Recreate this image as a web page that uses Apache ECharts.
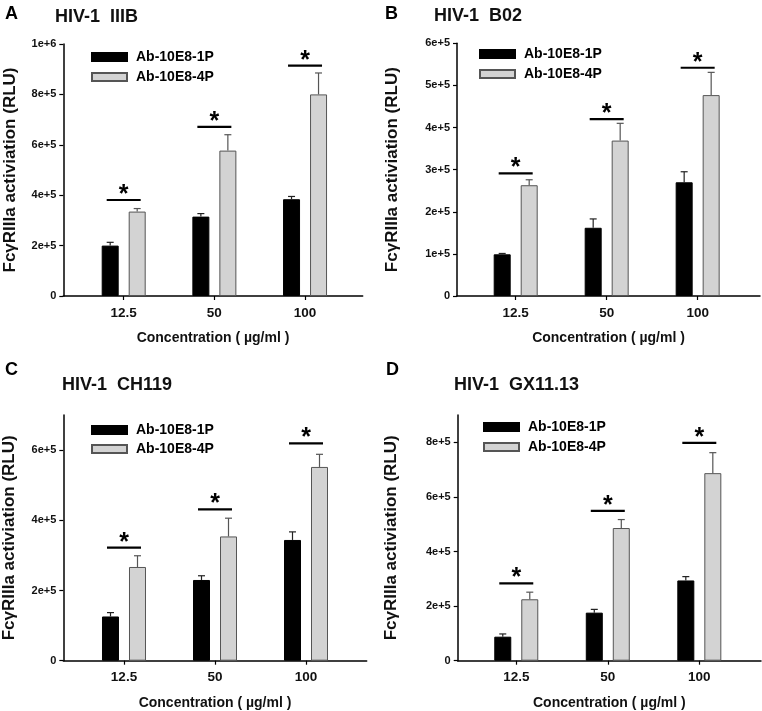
<!DOCTYPE html>
<html>
<head>
<meta charset="utf-8">
<script src="https://cdn.jsdelivr.net/npm/echarts@6/dist/echarts.min.js"></script>
<style>
html,body{margin:0;padding:0;background:#fff;}
#chart{width:762px;height:711px;}
</style>
</head>
<body>
<div id="chart"></div>
<script>
// ---- data ----
const categories = ['12.5', '50', '100'];
const seriesNames = ['Ab-10E8-1P', 'Ab-10E8-4P'];

const panelLetters = ['A', 'B', 'C', 'D'];
const panelTitles = ['HIV-1  IIIB', 'HIV-1  B02', 'HIV-1  CH119', 'HIV-1  GX11.13'];

// Panel A: HIV-1 IIIB
const a1P = [2.00e5, 3.15e5, 3.84e5];
const a1PErr = [0.13e5, 0.12e5, 0.11e5];
const a4P = [3.35e5, 5.77e5, 8.00e5];
const a4PErr = [0.12e5, 0.63e5, 0.85e5];
const aSig = [3.81e5, 6.71e5, 9.14e5];
const aTicks = [0, 2e5, 4e5, 6e5, 8e5, 1e6];
const aMax = 1e6;

// Panel B: HIV-1 B02
const b1P = [0.99e5, 1.62e5, 2.70e5];
const b1PErr = [0.02e5, 0.21e5, 0.25e5];
const b4P = [2.63e5, 3.69e5, 4.77e5];
const b4PErr = [0.13e5, 0.41e5, 0.54e5];
const bSig = [2.91e5, 4.20e5, 5.42e5];
const bTicks = [0, 1e5, 2e5, 3e5, 4e5, 5e5, 6e5];
const bMax = 6e5;

// Panel C: HIV-1 CH119
const c1P = [1.26e5, 2.30e5, 3.44e5];
const c1PErr = [0.11e5, 0.12e5, 0.23e5];
const c4P = [2.67e5, 3.54e5, 5.52e5];
const c4PErr = [0.32e5, 0.52e5, 0.36e5];
const cSig = [3.22e5, 4.31e5, 6.19e5];
const cTicks = [0, 2e5, 4e5, 6e5];
const cMax = 7e5;

// Panel D: HIV-1 GX11.13
const d1P = [0.88e5, 1.76e5, 2.94e5];
const d1PErr = [0.10e5, 0.12e5, 0.14e5];
const d4P = [2.25e5, 4.86e5, 6.87e5];
const d4PErr = [0.26e5, 0.31e5, 0.75e5];
const dSig = [2.83e5, 5.49e5, 7.98e5];
const dTicks = [0, 2e5, 4e5, 6e5, 8e5];
const dMax = 9e5;

const xAxisName = 'Concentration ( \u00b5g/ml )';
const yAxisName = 'Fc\u03b3RIIIa activiation (RLU)';

// ---- layout / style ----
const FONT = '"Liberation Sans", Arial, Helvetica, sans-serif';
const panels = [
  {p1: a1P, e1: a1PErr, p4: a4P, e4: a4PErr, sig: aSig, ticks: aTicks, max: aMax,
   grid: {left: 63.3, top: 44, width: 299.4, height: 252}, xmin: 0.334, xmax: 3.636, nameGap: 44,
   legend: {left: 86, top: 44, gap: 4}, letter: {left: 5, top: 5}, title: {left: 55, top: 8}},
  {p1: b1P, e1: b1PErr, p4: b4P, e4: b4PErr, sig: bSig, ticks: bTicks, max: bMax,
   grid: {left: 457, top: 43.3, width: 303, height: 252.7}, xmin: 0.355, xmax: 3.685, nameGap: 56,
   legend: {left: 474, top: 41, gap: 4}, letter: {left: 385, top: 5}, title: {left: 434, top: 7}},
  {p1: c1P, e1: c1PErr, p4: c4P, e4: c4PErr, sig: cSig, ticks: cTicks, max: cMax,
   grid: {left: 63.3, top: 415, width: 303.4, height: 245.7}, xmin: 0.333, xmax: 3.667, nameGap: 45,
   legend: {left: 86, top: 417, gap: 3}, letter: {left: 5, top: 361}, title: {left: 62, top: 376}},
  {p1: d1P, e1: d1PErr, p4: d4P, e4: d4PErr, sig: dSig, ticks: dTicks, max: dMax,
   grid: {left: 457.7, top: 415, width: 303.3, height: 245.7}, xmin: 0.36, xmax: 3.674, nameGap: 58,
   legend: {left: 478, top: 414, gap: 4}, letter: {left: 386, top: 361}, title: {left: 454, top: 376}}
];

const BAR_W = 17;
const BAR_GAP_PX = 10;
const HALF_OFF = (BAR_W + BAR_GAP_PX) / 2;

function expLabel(v) {
  if (v === 0) return '0';
  const e = Math.floor(Math.log10(v) + 1e-9);
  const m = Math.round(v / Math.pow(10, e));
  return m + 'e+' + e;
}

const grids = [], xAxes = [], yAxes = [], series = [], legends = [], titles = [];

panels.forEach(function (p, i) {
  grids.push(Object.assign({outerBoundsMode: 'none', containLabel: false}, p.grid));
  xAxes.push({
    type: 'value', gridIndex: i, min: p.xmin, max: p.xmax,
    name: xAxisName, nameLocation: 'middle', nameGap: 35,
    nameTextStyle: {fontFamily: FONT, fontWeight: 'bold', fontSize: 14, color: '#111'},
    splitLine: {show: false},
    axisLine: {show: true, onZero: false, lineStyle: {color: '#000', width: 1.5}},
    axisTick: {show: true, customValues: [1, 2, 3], length: 4, inside: false, lineStyle: {color: '#000', width: 1.2}},
    axisLabel: {customValues: [1, 2, 3], margin: 10, fontFamily: FONT, fontWeight: 'bold', fontSize: 13.5, color: '#111',
      formatter: function (v) { return categories[Math.round(v) - 1] || ''; }}
  });
  yAxes.push({
    type: 'value', gridIndex: i, min: 0, max: p.max,
    name: yAxisName, nameLocation: 'middle', nameGap: p.nameGap, nameRotate: 90,
    nameTextStyle: {fontFamily: FONT, fontWeight: 'bold', fontSize: 17, color: '#111'},
    splitLine: {show: false},
    axisLine: {show: true, lineStyle: {color: '#000', width: 1.5}},
    axisTick: {show: true, customValues: p.ticks, length: 4, lineStyle: {color: '#000', width: 1.2}},
    axisLabel: {customValues: p.ticks, margin: 7, fontFamily: FONT, fontWeight: 'bold', fontSize: 11, color: '#111',
      formatter: function (v) { return expLabel(v); }}
  });

  series.push({
    name: seriesNames[0], type: 'bar', xAxisIndex: i, yAxisIndex: i,
    barWidth: BAR_W, barGap: (BAR_GAP_PX / BAR_W * 100) + '%',
    itemStyle: {color: '#000', borderColor: '#000', borderWidth: 1},
    data: p.p1.map(function (v, k) { return [k + 1, v]; }), z: 2
  });
  series.push({
    name: seriesNames[1], type: 'bar', xAxisIndex: i, yAxisIndex: i,
    barWidth: BAR_W, barGap: (BAR_GAP_PX / BAR_W * 100) + '%',
    itemStyle: {color: '#d3d3d3', borderColor: '#555', borderWidth: 1},
    data: p.p4.map(function (v, k) { return [k + 1, v]; }), z: 2
  });

  const errData = [];
  p.p1.forEach(function (v, k) { errData.push([k + 1, v, p.e1[k], 0]); });
  p.p4.forEach(function (v, k) { errData.push([k + 1, v, p.e4[k], 1]); });
  series.push({
    type: 'custom', xAxisIndex: i, yAxisIndex: i, z: 3, silent: true,
    encode: {x: 0, y: 1},
    data: errData,
    renderItem: function (params, api) {
      const x = api.value(0), v = api.value(1), e = api.value(2), side = api.value(3);
      const dx = side === 0 ? -HALF_OFF : HALF_OFF;
      const b = api.coord([x, v]);
      const t = api.coord([x, v + e]);
      const cx = b[0] + dx;
      const col = side === 0 ? '#222' : '#555';
      return {type: 'group', children: [
        {type: 'line', shape: {x1: cx, y1: b[1], x2: cx, y2: t[1]}, style: {stroke: col, lineWidth: 1.2}},
        {type: 'line', shape: {x1: cx - 3.5, y1: t[1], x2: cx + 3.5, y2: t[1]}, style: {stroke: col, lineWidth: 1.2}}
      ]};
    }
  });

  series.push({
    type: 'custom', xAxisIndex: i, yAxisIndex: i, z: 4, silent: true,
    encode: {x: 0, y: 1},
    data: p.sig.map(function (v, k) { return [k + 1, v]; }),
    renderItem: function (params, api) {
      const c = api.coord([api.value(0), api.value(1)]);
      return {type: 'group', children: [
        {type: 'line', shape: {x1: c[0] - 17, y1: c[1], x2: c[0] + 17, y2: c[1]}, style: {stroke: '#000', lineWidth: 2.2}},
        {type: 'text', x: c[0], y: c[1] - 5, style: {text: '*', fill: '#000', font: 'bold 25px ' + FONT, textAlign: 'center', textVerticalAlign: 'middle'}}
      ]};
    }
  });

  legends.push({
    orient: 'vertical', left: p.legend.left, top: p.legend.top, itemGap: p.legend.gap,
    itemWidth: 35, itemHeight: 8, icon: 'rect', selectedMode: false,
    data: seriesNames,
    textStyle: {fontFamily: FONT, fontWeight: 'bold', fontSize: 14, color: '#000', lineHeight: 16, padding: [0, 0, 0, 4]}
  });

  titles.push({text: panelLetters[i], left: p.letter.left, top: p.letter.top, padding: 0,
    textStyle: {fontFamily: FONT, fontWeight: 'bold', fontSize: 18, color: '#000'}});
  titles.push({text: panelTitles[i], left: p.title.left, top: p.title.top, padding: 0,
    textStyle: {fontFamily: FONT, fontWeight: 'bold', fontSize: 18, color: '#111'}});
});

const chart = echarts.init(document.getElementById('chart'), null, {renderer: 'canvas'});
chart.setOption({
  animation: false,
  backgroundColor: '#fff',
  title: titles,
  legend: legends,
  grid: grids,
  xAxis: xAxes,
  yAxis: yAxes,
  series: series
});
</script>
</body>
</html>
